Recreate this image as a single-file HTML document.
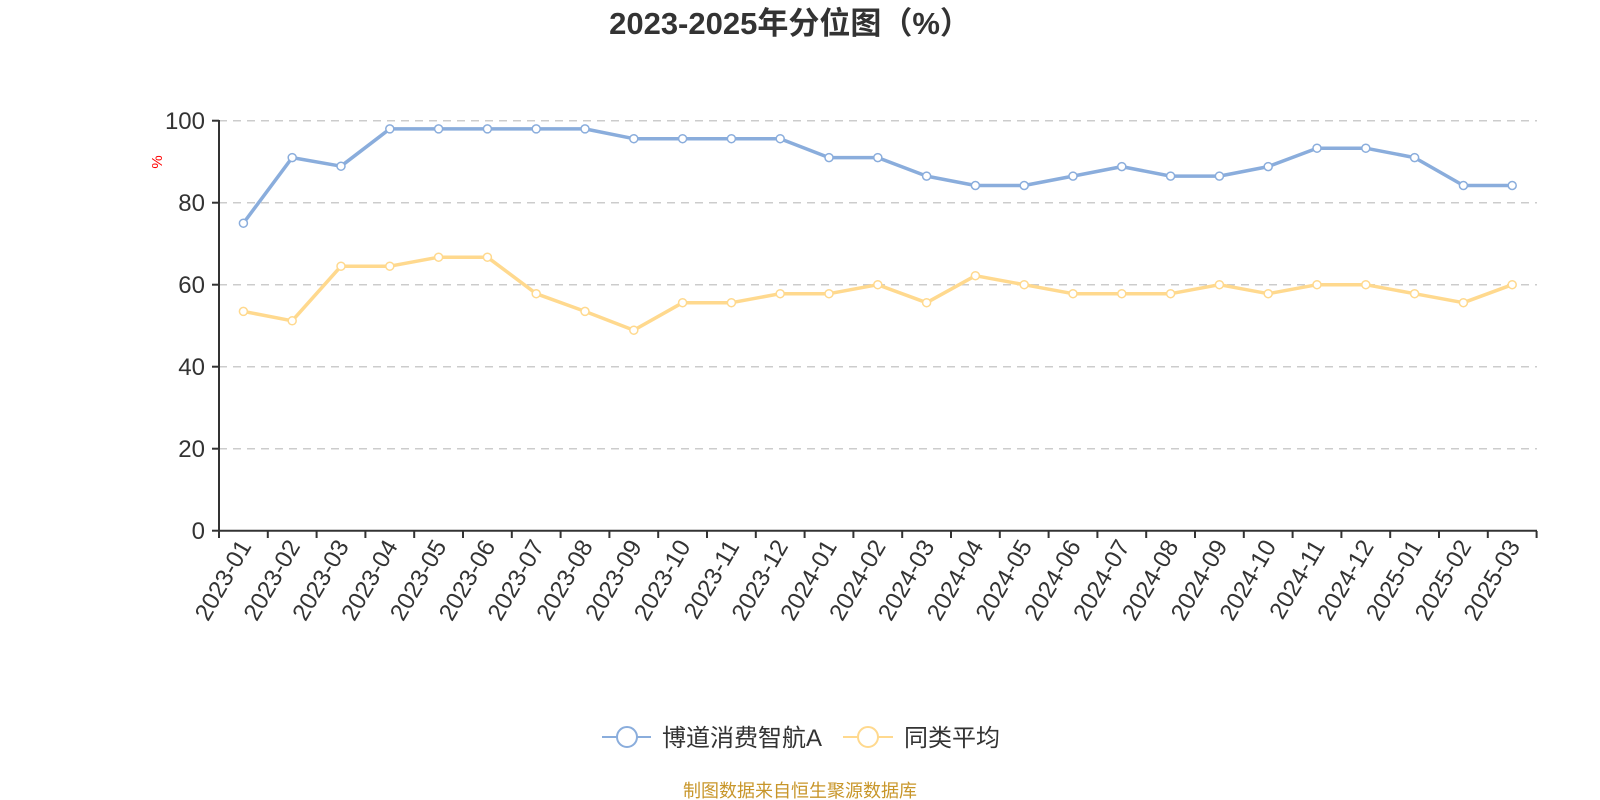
<!DOCTYPE html>
<html><head><meta charset="utf-8"><style>
html,body{margin:0;padding:0;background:#fff;}
svg{display:block;font-family:"Liberation Sans","Noto Sans CJK SC",sans-serif;}
</style></head><body>
<svg width="1600" height="800" viewBox="0 0 1600 800" xmlns="http://www.w3.org/2000/svg">
<text x="790" y="34" text-anchor="middle" font-size="31" font-weight="bold" fill="#333">2023-2025年分位图（%）</text>
<g stroke="#ccc" stroke-width="1.5" stroke-dasharray="8,6">
<line x1="219" y1="120.7" x2="1537" y2="120.7"/>
<line x1="219" y1="202.7" x2="1537" y2="202.7"/>
<line x1="219" y1="284.7" x2="1537" y2="284.7"/>
<line x1="219" y1="366.7" x2="1537" y2="366.7"/>
<line x1="219" y1="448.7" x2="1537" y2="448.7"/>
</g>
<g stroke="#333" stroke-width="2">
<line x1="219" y1="120" x2="219" y2="531"/>
<line x1="218" y1="530.7" x2="1537" y2="530.7"/>
<line x1="212" y1="120.7" x2="219" y2="120.7"/>
<line x1="212" y1="202.7" x2="219" y2="202.7"/>
<line x1="212" y1="284.7" x2="219" y2="284.7"/>
<line x1="212" y1="366.7" x2="219" y2="366.7"/>
<line x1="212" y1="448.7" x2="219" y2="448.7"/>
<line x1="212" y1="530.7" x2="219" y2="530.7"/>
</g>
<g stroke="#333" stroke-width="2">
<path d="M219 531v7M267.8 531v7M316.6 531v7M365.4 531v7M414.2 531v7M463 531v7M511.8 531v7M560.6 531v7M609.4 531v7M658.2 531v7M707 531v7M755.8 531v7M804.6 531v7M853.4 531v7M902.2 531v7M951 531v7M999.8 531v7M1048.6 531v7M1097.4 531v7M1146.2 531v7M1195 531v7M1243.8 531v7M1292.6 531v7M1341.4 531v7M1390.2 531v7M1439 531v7M1487.8 531v7M1536.6 531v7"/>
</g>
<g font-size="24" fill="#333" text-anchor="end">
<text x="205" y="129">100</text>
<text x="205" y="211">80</text>
<text x="205" y="293">60</text>
<text x="205" y="375">40</text>
<text x="205" y="457">20</text>
<text x="205" y="539">0</text>
</g>
<text x="162" y="162" font-size="15" fill="red" text-anchor="middle" transform="rotate(-90 162 162)">%</text>
<g font-size="24" fill="#333" text-anchor="end">
<text transform="translate(252,546) rotate(-60)">2023-01</text>
<text transform="translate(300.8,546) rotate(-60)">2023-02</text>
<text transform="translate(349.6,546) rotate(-60)">2023-03</text>
<text transform="translate(398.4,546) rotate(-60)">2023-04</text>
<text transform="translate(447.2,546) rotate(-60)">2023-05</text>
<text transform="translate(496,546) rotate(-60)">2023-06</text>
<text transform="translate(544.8,546) rotate(-60)">2023-07</text>
<text transform="translate(593.6,546) rotate(-60)">2023-08</text>
<text transform="translate(642.4,546) rotate(-60)">2023-09</text>
<text transform="translate(691.2,546) rotate(-60)">2023-10</text>
<text transform="translate(740,546) rotate(-60)">2023-11</text>
<text transform="translate(788.8,546) rotate(-60)">2023-12</text>
<text transform="translate(837.6,546) rotate(-60)">2024-01</text>
<text transform="translate(886.4,546) rotate(-60)">2024-02</text>
<text transform="translate(935.2,546) rotate(-60)">2024-03</text>
<text transform="translate(984,546) rotate(-60)">2024-04</text>
<text transform="translate(1032.8,546) rotate(-60)">2024-05</text>
<text transform="translate(1081.6,546) rotate(-60)">2024-06</text>
<text transform="translate(1130.4,546) rotate(-60)">2024-07</text>
<text transform="translate(1179.2,546) rotate(-60)">2024-08</text>
<text transform="translate(1228,546) rotate(-60)">2024-09</text>
<text transform="translate(1276.8,546) rotate(-60)">2024-10</text>
<text transform="translate(1325.6,546) rotate(-60)">2024-11</text>
<text transform="translate(1374.4,546) rotate(-60)">2024-12</text>
<text transform="translate(1423.2,546) rotate(-60)">2025-01</text>
<text transform="translate(1472,546) rotate(-60)">2025-02</text>
<text transform="translate(1520.8,546) rotate(-60)">2025-03</text>
</g>
<polyline fill="none" stroke="#ffd98e" stroke-width="3.5" stroke-linejoin="round" points="243.4,311.4 292.2,320.8 341,266.2 389.8,266.2 438.6,257.2 487.4,257.2 536.2,293.7 585,311.4 633.8,330.2 682.6,302.7 731.4,302.7 780.2,293.7 829,293.7 877.8,284.7 926.6,302.7 975.4,275.7 1024.2,284.7 1073,293.7 1121.8,293.7 1170.6,293.7 1219.4,284.7 1268.2,293.7 1317,284.7 1365.8,284.7 1414.6,293.7 1463.4,302.7 1512.2,284.7"/>
<g fill="#fff" stroke="#ffd98e" stroke-width="1.5">
<circle cx="243.4" cy="311.4" r="4"/><circle cx="292.2" cy="320.8" r="4"/><circle cx="341" cy="266.2" r="4"/><circle cx="389.8" cy="266.2" r="4"/><circle cx="438.6" cy="257.2" r="4"/><circle cx="487.4" cy="257.2" r="4"/><circle cx="536.2" cy="293.7" r="4"/><circle cx="585" cy="311.4" r="4"/><circle cx="633.8" cy="330.2" r="4"/><circle cx="682.6" cy="302.7" r="4"/><circle cx="731.4" cy="302.7" r="4"/><circle cx="780.2" cy="293.7" r="4"/><circle cx="829" cy="293.7" r="4"/><circle cx="877.8" cy="284.7" r="4"/><circle cx="926.6" cy="302.7" r="4"/><circle cx="975.4" cy="275.7" r="4"/><circle cx="1024.2" cy="284.7" r="4"/><circle cx="1073" cy="293.7" r="4"/><circle cx="1121.8" cy="293.7" r="4"/><circle cx="1170.6" cy="293.7" r="4"/><circle cx="1219.4" cy="284.7" r="4"/><circle cx="1268.2" cy="293.7" r="4"/><circle cx="1317" cy="284.7" r="4"/><circle cx="1365.8" cy="284.7" r="4"/><circle cx="1414.6" cy="293.7" r="4"/><circle cx="1463.4" cy="302.7" r="4"/><circle cx="1512.2" cy="284.7" r="4"/>
</g>
<polyline fill="none" stroke="#8aaddc" stroke-width="3.5" stroke-linejoin="round" points="243.4,223.2 292.2,157.6 341,166.2 389.8,128.9 438.6,128.9 487.4,128.9 536.2,128.9 585,128.9 633.8,138.7 682.6,138.7 731.4,138.7 780.2,138.7 829,157.6 877.8,157.6 926.6,176.1 975.4,185.5 1024.2,185.5 1073,176.1 1121.8,166.6 1170.6,176.1 1219.4,176.1 1268.2,166.6 1317,148.2 1365.8,148.2 1414.6,157.6 1463.4,185.5 1512.2,185.5"/>
<g fill="#fff" stroke="#8aaddc" stroke-width="1.5">
<circle cx="243.4" cy="223.2" r="4"/><circle cx="292.2" cy="157.6" r="4"/><circle cx="341" cy="166.2" r="4"/><circle cx="389.8" cy="128.9" r="4"/><circle cx="438.6" cy="128.9" r="4"/><circle cx="487.4" cy="128.9" r="4"/><circle cx="536.2" cy="128.9" r="4"/><circle cx="585" cy="128.9" r="4"/><circle cx="633.8" cy="138.7" r="4"/><circle cx="682.6" cy="138.7" r="4"/><circle cx="731.4" cy="138.7" r="4"/><circle cx="780.2" cy="138.7" r="4"/><circle cx="829" cy="157.6" r="4"/><circle cx="877.8" cy="157.6" r="4"/><circle cx="926.6" cy="176.1" r="4"/><circle cx="975.4" cy="185.5" r="4"/><circle cx="1024.2" cy="185.5" r="4"/><circle cx="1073" cy="176.1" r="4"/><circle cx="1121.8" cy="166.6" r="4"/><circle cx="1170.6" cy="176.1" r="4"/><circle cx="1219.4" cy="176.1" r="4"/><circle cx="1268.2" cy="166.6" r="4"/><circle cx="1317" cy="148.2" r="4"/><circle cx="1365.8" cy="148.2" r="4"/><circle cx="1414.6" cy="157.6" r="4"/><circle cx="1463.4" cy="185.5" r="4"/><circle cx="1512.2" cy="185.5" r="4"/>
</g>
<g stroke-width="2" fill="#fff">
<line x1="602" y1="737" x2="651" y2="737" stroke="#8aaddc"/>
<circle cx="627" cy="737" r="10" stroke="#8aaddc"/>
<line x1="843" y1="737" x2="893" y2="737" stroke="#ffd98e"/>
<circle cx="868" cy="737" r="10" stroke="#ffd98e"/>
</g>
<text x="662" y="746" font-size="24" fill="#333">博道消费智航A</text>
<text x="904" y="746" font-size="24" fill="#333">同类平均</text>
<text x="800" y="797" font-size="18" fill="#c8962a" text-anchor="middle">制图数据来自恒生聚源数据库</text>
</svg>
</body></html>
